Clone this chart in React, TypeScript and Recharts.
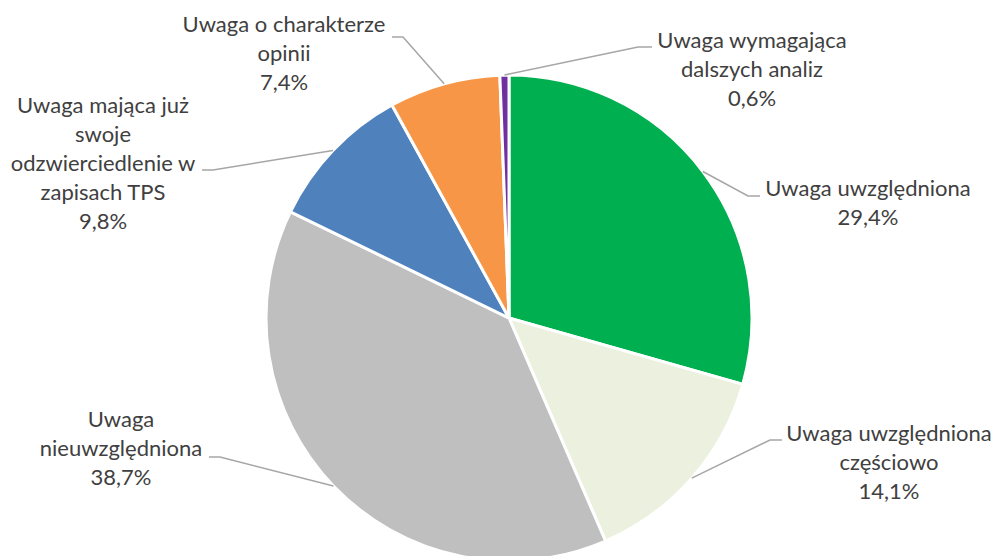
import { PieChart, Pie, Cell } from 'recharts';

const categories = [
  'Uwaga uwzględniona',
  'Uwaga uwzględniona częściowo',
  'Uwaga nieuwzględniona',
  'Uwaga mająca już swoje odzwierciedlenie w zapisach TPS',
  'Uwaga o charakterze opinii',
  'Uwaga wymagająca dalszych analiz',
];
const shares = [29.4, 14.1, 38.7, 9.8, 7.4, 0.6];
const labelLines = [
  ['Uwaga uwzględniona', '29,4%'],
  ['Uwaga uwzględniona', 'częściowo', '14,1%'],
  ['Uwaga', 'nieuwzględniona', '38,7%'],
  ['Uwaga mająca już', 'swoje', 'odzwierciedlenie w', 'zapisach TPS', '9,8%'],
  ['Uwaga o charakterze', 'opinii', '7,4%'],
  ['Uwaga wymagająca', 'dalszych analiz', '0,6%'],
];

const colors = ['#00b050', '#ebf1de', '#bfbfbf', '#4f81bd', '#f79646', '#7030a0'];

const data = categories.map((name, i) => ({ name, value: shares[i] }));

// label placement relative to pie centre: elbow, end of leader, text centre and first baseline
const layout = [
  { elbow: [239, -122], end: [251, -122], tx: 359, ty: -122 },
  { elbow: [261, 122], end: [273, 122], tx: 380, ty: 123 },
  { elbow: [-289, 139], end: [-300, 139], tx: -388, ty: 109 },
  { elbow: [-296, -148], end: [-307, -148], tx: -406, ty: -205 },
  { elbow: [-106, -281], end: [-117, -281], tx: -225, ty: -286 },
  { elbow: [129, -271], end: [143, -271], tx: 243, ty: -270 },
];

const RAD = Math.PI / 180;
const LINE_H = 29;

const renderLabel = (props: any) => {
  const { cx, cy, midAngle, outerRadius, index } = props;
  const l = layout[index];
  const sx = cx + outerRadius * Math.cos(-midAngle * RAD);
  const sy = cy + outerRadius * Math.sin(-midAngle * RAD);
  const pts = `${sx},${sy} ${cx + l.elbow[0]},${cy + l.elbow[1]} ${cx + l.end[0]},${cy + l.end[1]}`;
  return (
    <g key={`lbl-${index}`}>
      <polyline points={pts} fill="none" stroke="#a6a6a6" strokeWidth={1.5} />
      <text
        x={cx + l.tx}
        y={cy + l.ty}
        textAnchor="middle"
        fill="#404040"
        fontSize={22}
        fontFamily="Lato, 'Open Sans', sans-serif"
      >
        {labelLines[index].map((line, j) => (
          <tspan key={j} x={cx + l.tx} y={cy + l.ty + j * LINE_H}>
            {line}
          </tspan>
        ))}
      </text>
    </g>
  );
};

export default function App() {
  return (
    <div style={{ position: 'absolute', left: 0, top: 0, width: 997, height: 556, overflow: 'hidden', background: '#fff' }}>
      <PieChart width={997} height={556} margin={{ top: 0, right: 0, bottom: 0, left: 0 }}>
        <Pie
          data={data}
          dataKey="value"
          nameKey="name"
          cx={509}
          cy={318}
          outerRadius={243}
          startAngle={90}
          endAngle={-270}
          stroke="#ffffff"
          strokeWidth={3}
          label={renderLabel}
          labelLine={false}
          isAnimationActive={false}
        >
          {data.map((_, i) => (
            <Cell key={i} fill={colors[i]} />
          ))}
        </Pie>
      </PieChart>
    </div>
  );
}
